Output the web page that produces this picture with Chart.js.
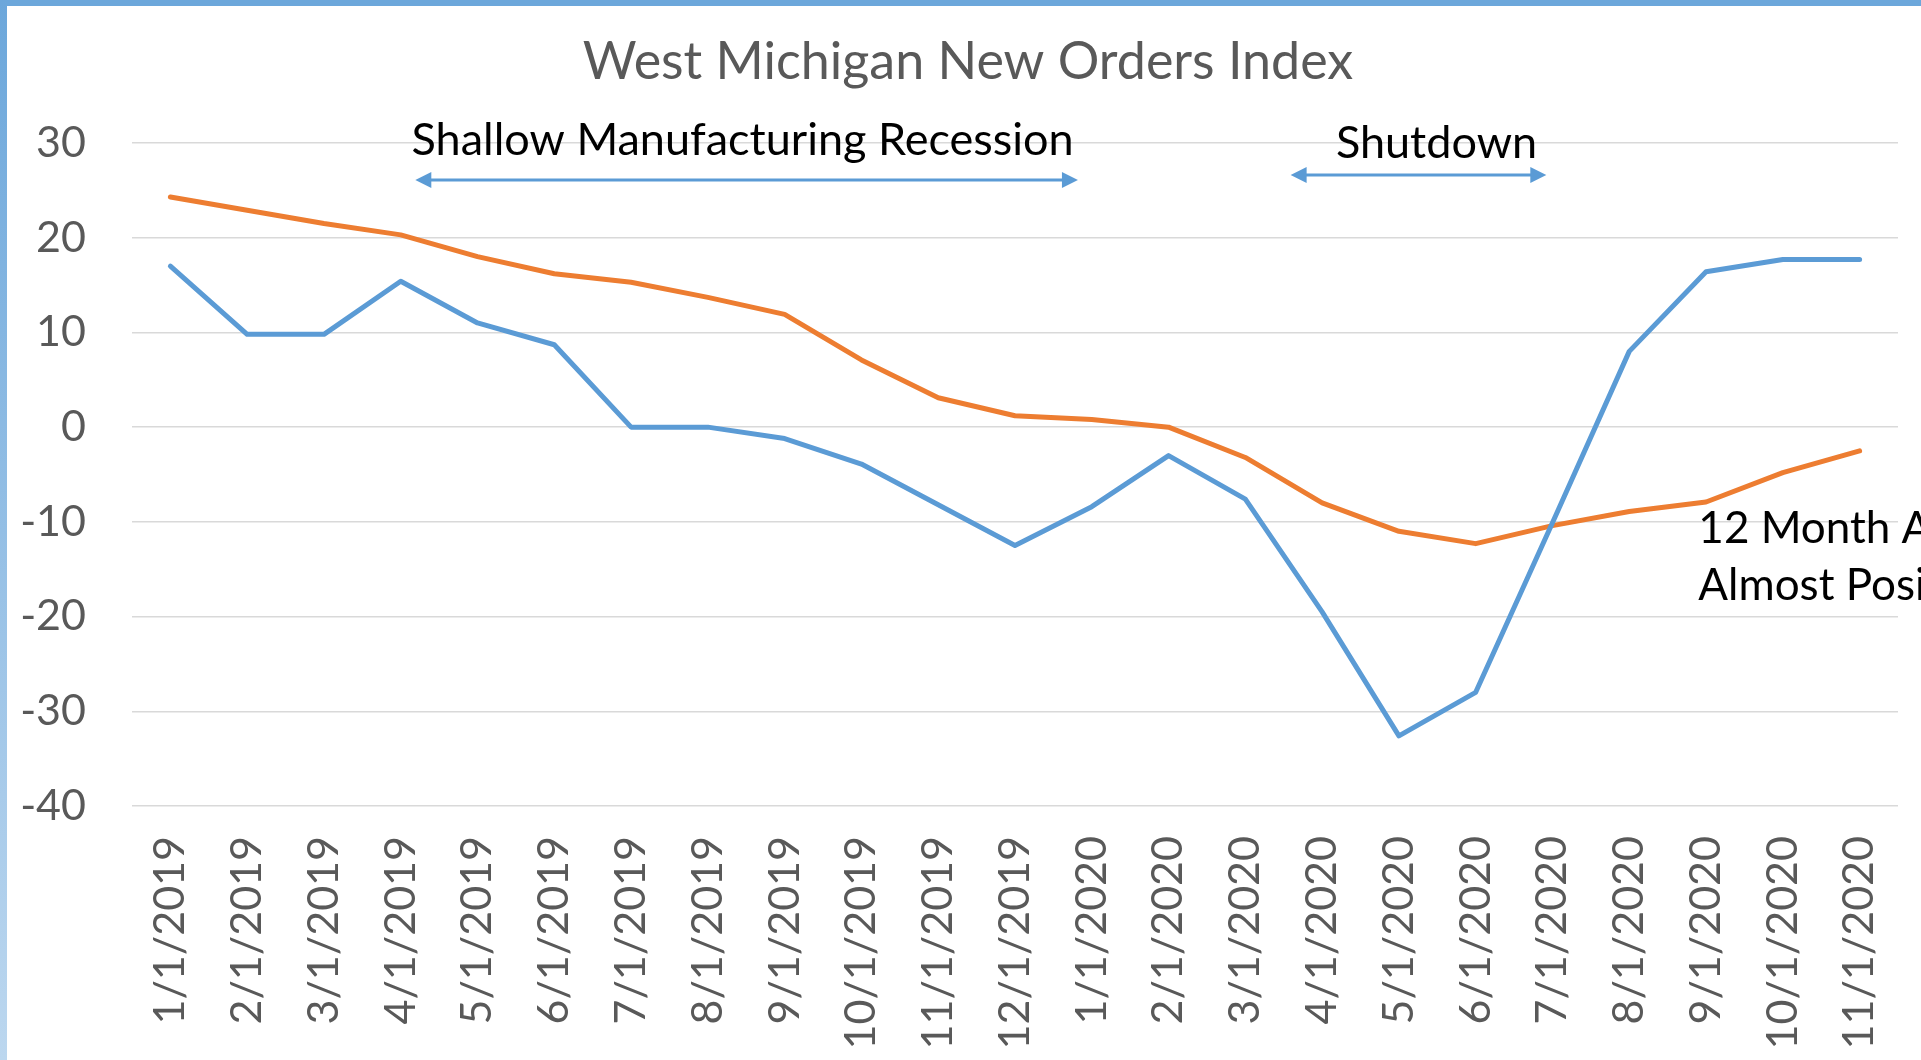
<!DOCTYPE html>
<html><head><meta charset="utf-8">
<script src="https://cdn.jsdelivr.net/npm/chart.js@4/dist/chart.umd.min.js"></script>
<style>html,body{margin:0;padding:0;background:#fff;overflow:hidden}
#wrap{width:1921px;height:1060px;position:relative}</style></head>
<body><div id="wrap"><canvas id="c" width="1921" height="1060"></canvas></div>
<script>
const categories = ['1/1/2019','2/1/2019','3/1/2019','4/1/2019','5/1/2019','6/1/2019','7/1/2019','8/1/2019','9/1/2019','10/1/2019','11/1/2019','12/1/2019','1/1/2020','2/1/2020','3/1/2020','4/1/2020','5/1/2020','6/1/2020','7/1/2020','8/1/2020','9/1/2020','10/1/2020','11/1/2020'];
const newOrdersIndex = [17.0, 9.8, 9.8, 15.4, 11.0, 8.7, 0, 0, -1.2, -3.9, -8.2, -12.5, -8.4, -3.0, -7.6, -19.5, -32.6, -28.0, -10.1, 8.0, 16.4, 17.7, 17.7];
const twelveMonthAvg = [24.3, 22.9, 21.5, 20.3, 18.0, 16.2, 15.3, 13.7, 11.9, 7.1, 3.1, 1.2, 0.8, 0.0, -3.2, -8.0, -11.0, -12.3, -10.4, -8.9, -7.9, -4.8, -2.5];
const yMin = -40, yMax = 30, yStep = 10;
const chartTitle = 'West Michigan New Orders Index';
const periodLabels = ['Shallow Manufacturing Recession', 'Shutdown'];
const periodStart = [3.19, 14.59];
const periodEnd = [11.82, 17.92];
const noteLines = ['12 Month Average', 'Almost Positive'];

const FONT = 'Lato, "Open Sans", sans-serif';
const BLUE = '#5b9bd5', ORANGE = '#ed7d31';

function arrowHead(ctx, x, y, dir) {
  ctx.beginPath();
  ctx.moveTo(x, y);
  ctx.lineTo(x - dir * 16, y - 8);
  ctx.lineTo(x - dir * 16, y + 8);
  ctx.closePath();
  ctx.fill();
}

const decor = {
  id: 'decor',
  beforeDraw(chart) {
    const ctx = chart.ctx;
    ctx.save();
    ctx.fillStyle = '#fff';
    ctx.fillRect(0, 0, chart.width, chart.height);
    ctx.fillStyle = '#6ca7db';
    ctx.fillRect(0, 0, chart.width, 6);
    const g = ctx.createLinearGradient(0, 0, 0, chart.height);
    g.addColorStop(0, '#6ca7db');
    g.addColorStop(1, '#bcd7ef');
    ctx.fillStyle = g;
    ctx.fillRect(0, 0, 7, chart.height);
    ctx.restore();
  },
  afterDraw(chart) {
    const ctx = chart.ctx;
    const xs = chart.scales.x, ys = chart.scales.y;
    const top = chart.chartArea.top;
    ctx.save();
    // title
    ctx.font = '52px ' + FONT;
    ctx.fillStyle = '#595959';
    ctx.textAlign = 'center';
    ctx.textBaseline = 'middle';
    ctx.fillText(chartTitle, 968, 62);
    // period annotations
    ctx.font = '45px ' + FONT;
    const textY = [top - 3, top];
    const textDx = [-4, 18];
    const arrowY = [top + 37, top + 32];
    for (let i = 0; i < periodLabels.length; i++) {
      const x1 = xs.getPixelForValue(periodStart[i]);
      const x2 = xs.getPixelForValue(periodEnd[i]);
      ctx.textAlign = 'center';
      ctx.fillStyle = '#000';
      ctx.fillText(periodLabels[i], (x1 + x2) / 2 + textDx[i], textY[i]);
      ctx.strokeStyle = BLUE;
      ctx.fillStyle = BLUE;
      ctx.lineWidth = 3;
      ctx.beginPath();
      ctx.moveTo(x1 + 10, arrowY[i]);
      ctx.lineTo(x2 - 10, arrowY[i]);
      ctx.stroke();
      arrowHead(ctx, x1, arrowY[i], -1);
      arrowHead(ctx, x2, arrowY[i], 1);
    }
    ctx.font = '44px ' + FONT;
    ctx.fillStyle = '#000';
    ctx.textAlign = 'left';
    const nx = xs.getPixelForValue(19.9);
    ctx.fillText(noteLines[0], nx, ys.getPixelForValue(-10.7));
    ctx.fillText(noteLines[1], nx, ys.getPixelForValue(-16.8));
    ctx.restore();
  }
};

new Chart(document.getElementById('c'), {
  type: 'line',
  data: {
    labels: categories,
    datasets: [
      { label: 'New Orders Index', data: newOrdersIndex, borderColor: BLUE, backgroundColor: BLUE, borderWidth: 5, pointRadius: 0, tension: 0, borderCapStyle: 'round', borderJoinStyle: 'round' },
      { label: '12 Month Average', data: twelveMonthAvg, borderColor: ORANGE, backgroundColor: ORANGE, borderWidth: 5, pointRadius: 0, tension: 0, borderCapStyle: 'round', borderJoinStyle: 'round' }
    ]
  },
  options: {
    responsive: false,
    animation: false,
    events: [],
    layout: { padding: { left: 0, right: 23, top: 143, bottom: 0 } },
    plugins: {
      legend: { display: false },
      tooltip: { enabled: false },
      title: { display: false }
    },
    scales: {
      x: {
        offset: true,
        grid: { display: false },
        border: { display: false },
        ticks: { color: '#595959', font: { family: FONT, size: 43 }, maxRotation: 90, minRotation: 90, autoSkip: false, padding: 22 },
        afterFit(s) { s.height = 254; s.paddingLeft = 0; s.paddingRight = 0; }
      },
      y: {
        min: yMin, max: yMax,
        grid: { color: '#d9d9d9', lineWidth: 1.5, drawTicks: false },
        border: { display: false },
        ticks: { stepSize: yStep, color: '#595959', font: { family: FONT, size: 43 }, padding: 46 },
        afterFit(s) { s.width = 132; s.paddingTop = 0; s.paddingBottom = 0; }
      }
    }
  },
  plugins: [decor]
});
</script></body></html>
